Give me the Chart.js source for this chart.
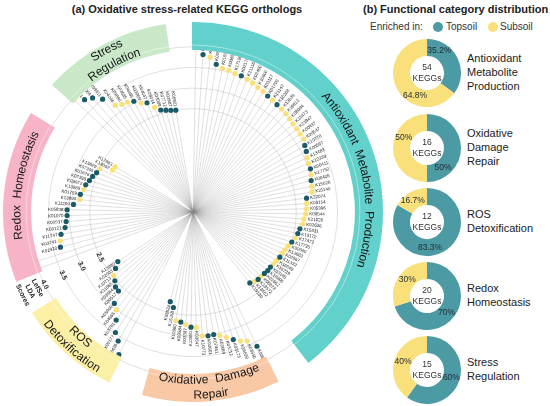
<!DOCTYPE html>
<html><head><meta charset="utf-8">
<script src="https://cdn.jsdelivr.net/npm/chart.js@4"></script>
<style>
html,body{margin:0;padding:0;background:#fff;}
#wrap{position:relative;width:550px;height:406px;overflow:hidden;font-family:"Liberation Sans",Arial,sans-serif;color:#222;}
.abs{position:absolute;white-space:nowrap;}
.title{font-weight:bold;font-size:11px;}
.lg{font-size:10px;color:#333;}
.dot{position:absolute;width:10px;height:10px;border-radius:50%;}
.cat{font-size:11px;line-height:14px;color:#222;}
</style></head>
<body><div id="wrap">
<div class="abs title" style="left:0;width:374px;text-align:center;top:3px;">(a) Oxidative stress-related KEGG orthologs</div>
<div class="abs title" style="left:363px;top:3px;">(b) Functional category distribution</div>
<div class="abs lg" style="left:370px;top:21px;">Enriched in:</div>
<div class="dot" id="lgT" style="left:433px;top:22px;"></div>
<div class="abs lg" style="left:446px;top:21px;">Topsoil</div>
<div class="dot" id="lgS" style="left:488px;top:22px;"></div>
<div class="abs lg" style="left:500px;top:21px;">Subsoil</div>
<canvas id="radar" width="380" height="380" style="position:absolute;left:3px;top:22px;"></canvas>
</div>
<script>
// ---------------- DATA ----------------
const categories = ["Antioxidant Metabolite Production","Oxidative Damage Repair","ROS Detoxification","Redox Homeostasis","Stress Regulation"];
const bandLines = [["Antioxidant  Metabolite  Production"],["Oxidative  Damage","Repair"],["ROS","Detoxification"],["Redox  Homeostasis"],["Stress","Regulation"]];
const sideLabels = [["Antioxidant","Metabolite","Production"],["Oxidative","Damage","Repair"],["ROS","Detoxification"],["Redox","Homeostasis"],["Stress","Regulation"]];

const antioxKO = ["K05916","K00394","K11717","K00548","K01911","K00652","K17180","K02174","K21116","K02400","K10800","K03117","K01700","K21147","K10208","K13039","K19812","K08094","K11473","K21947","K00437","K00547","K10778","K00567","K13483","K12339","K00411","K17752","K00426","K15026","K21140","K22074","K03154","K05396","K00544","K21026","K02636","K15631","K19172","K17472","K17725","K00660","K13663","K02567","K11333","K16049","K16239","K03185","K18800","K01662","K00872","K13572","K14652","K19180"];
const antioxLDA = [4.06,3.82,3.77,3.62,3.55,3.54,3.50,3.50,3.47,3.44,3.40,3.38,3.34,3.32,3.30,3.29,3.27,3.25,3.23,3.22,3.21,3.21,3.15,3.11,3.06,3.03,3.03,3.00,2.96,2.94,2.92,2.77,2.76,2.75,2.73,2.69,2.67,2.62,2.59,2.56,2.50,2.45,2.41,2.38,2.37,2.34,2.32,2.30,2.30,2.28,2.27,2.27,2.25,2.20];
const antioxEnr = ["S","T","S","T","S","S","S","T","S","S","S","S","T","S","T","S","S","S","S","S","S","S","T","T","S","S","T","S","T","S","S","T","S","S","S","S","S","T","T","S","T","S","S","S","T","S","S","T","T","T","S","T","S","T"];

const repairKO = ["K03655","K03550","K16899","K03173","K03712","K03684","K07461","K03601","K10773","K03647","K13581","K03387","K03584","K10980","K15158","K03524"];
const repairLDA = [3.60,3.39,3.33,3.24,3.14,3.06,3.01,3.02,3.01,2.80,2.79,2.73,2.68,2.66,2.36,2.24];
const repairEnr = ["T","S","S","T","S","S","T","T","S","S","T","S","T","S","T","T"];

const rosKO = ["K03386","K06428","K00177","K03781","K04565","K05800","K00517","K03564","K11065","K10713","K02003","K13990"];
const rosLDA = [3.89,3.61,3.47,3.21,3.01,2.92,2.63,2.61,2.52,2.46,2.32,2.18];
const rosEnr = ["T","T","T","T","S","T","T","T","T","S","T","T"];

const redoxKO = ["K00799","K00384","K01920","K03741","K11747","K00121","K00537","K01070","K05838","K11209","K13890","K01759","K13889","K03672","K07390","K03676","K07305","K13829","K18092","K17893"];
const redoxLDA = [4.04,4.00,3.32,3.29,3.24,3.12,3.08,3.05,3.05,2.90,2.76,2.76,2.70,2.68,2.62,2.58,2.52,2.49,2.20,2.18];
const redoxEnr = ["T","T","T","S","T","T","T","T","T","T","S","T","S","T","T","T","T","S","S","S"];

const stressKO = ["K06006","K03701","K09004","K03611","K04046","K03086","K03685","K04485","K03969","K04047","K09014","K03088","K07712","K03687","K06901"];
const stressLDA = [3.96,3.78,3.68,3.50,3.20,3.12,3.10,3.04,2.92,2.87,2.70,2.59,2.55,2.52,2.50];
const stressEnr = ["S","T","T","T","S","S","S","T","S","T","S","T","T","T","T"];

const ldaTicks = [2.5, 3.0, 3.5, 4.0];
const ldaTickLabels = ["2.5","3.0","3.5","4.0"];
const axisTitle = ["LefSe","LDA","Scores"];

const totalKEGGs = [54,16,12,20,15];
const topsoilPct = [35.2,50,83.3,70,60];
const subsoilPct = [64.8,50,16.7,30,40];

// ---------------- STYLE / LAYOUT ----------------
const TOP_DOT = '#1b5a67', SUB_DOT = '#f9e07a';
const TOP_PIE = '#4b9aa4', SUB_PIE = '#fae07b';
const bandColors = ['#62d0cb','#f9c8a5','#fbf0a6','#f7b4c6','#c8e8c8'];
const bandTextShiftDeg = [7,0,0,4,0];
const gapAfter = [4,4,4,4,3];
const startAngleDeg = 1;
const bandInner = 3.92, bandOuter = 4.6;
const axisAngleDeg = 244;
const pieCY = [73,147.5,221.7,295.8,369.5];
const pieCX = 426.7, pieR = 34;
const pctAngles = [[29,208],[141,294],[173,326],[130,309],[107,290]];

const groups = [
  {ko:antioxKO, v:antioxLDA, e:antioxEnr},
  {ko:repairKO, v:repairLDA, e:repairEnr},
  {ko:rosKO, v:rosLDA, e:rosEnr},
  {ko:redoxKO, v:redoxLDA, e:redoxEnr},
  {ko:stressKO, v:stressLDA, e:stressEnr}
];

// build slot table for the radial scale
const slotLabels = [], topData = [], subData = [], slotVal = [], ranges = [];
groups.forEach((g, gi) => {
  const a = slotLabels.length;
  g.ko.forEach((k, j) => {
    slotLabels.push(k); slotVal.push(g.v[j]);
    topData.push(g.e[j] === 'T' ? g.v[j] : null);
    subData.push(g.e[j] === 'S' ? g.v[j] : null);
  });
  ranges.push([a, slotLabels.length - 1]);
  for (let k = 0; k < gapAfter[gi]; k++) { slotLabels.push(''); slotVal.push(null); topData.push(null); subData.push(null); }
});

const FONT = '"Liberation Sans", Arial, sans-serif';

function arcText(ctx, text, cx, cy, r, centerTh, outward) {
  const total = ctx.measureText(text).width; const span = total / r;
  let th = outward ? centerTh - span / 2 : centerTh + span / 2;
  for (const ch of text) {
    const d = ctx.measureText(ch).width / r;
    const mid = outward ? th + d / 2 : th - d / 2;
    ctx.save();
    ctx.translate(cx + Math.sin(mid) * r, cy - Math.cos(mid) * r);
    ctx.rotate(outward ? mid : mid - Math.PI);
    ctx.textAlign = 'center'; ctx.textBaseline = 'middle';
    ctx.fillText(ch, 0, 0);
    ctx.restore();
    th = outward ? th + d : th - d;
  }
}

const radialDecor = {
  id: 'radialDecor',
  beforeDatasetsDraw(chart) {
    const s = chart.scales.r, ctx = chart.ctx;
    ctx.save(); ctx.strokeStyle = 'rgba(130,130,130,0.5)'; ctx.lineWidth = 0.5;
    slotVal.forEach((v, i) => {
      if (v == null) return;
      const p = s.getPointPositionForValue(i, v);
      ctx.beginPath(); ctx.moveTo(s.xCenter, s.yCenter); ctx.lineTo(p.x, p.y); ctx.stroke();
    });
    ctx.restore();
  },
  afterDatasetsDraw(chart) {
    const s = chart.scales.r, ctx = chart.ctx, cx = s.xCenter, cy = s.yCenter;
    const half = Math.PI / slotLabels.length;
    // KO labels
    ctx.save(); ctx.fillStyle = '#262626'; ctx.font = '4.5px ' + FONT; ctx.textBaseline = 'middle';
    slotVal.forEach((v, i) => {
      if (v == null) return;
      const th = s.getIndexAngle(i), rr = s.getDistanceFromCenterForValue(v) + 3.6;
      ctx.save(); ctx.translate(cx + Math.sin(th) * rr, cy - Math.cos(th) * rr);
      if (th < Math.PI) { ctx.rotate(th - Math.PI / 2); ctx.textAlign = 'left'; }
      else { ctx.rotate(th - 1.5 * Math.PI); ctx.textAlign = 'right'; }
      ctx.fillText(slotLabels[i], 0, 0); ctx.restore();
    });
    ctx.restore();
    // category bands
    const rIn = s.getDistanceFromCenterForValue(bandInner), rOut = s.getDistanceFromCenterForValue(bandOuter);
    ranges.forEach(([a, b], gi) => {
      const t0 = s.getIndexAngle(a) - half, t1 = s.getIndexAngle(b) + half;
      ctx.save(); ctx.fillStyle = bandColors[gi];
      ctx.beginPath(); ctx.arc(cx, cy, rOut, t0 - Math.PI / 2, t1 - Math.PI / 2);
      ctx.arc(cx, cy, rIn, t1 - Math.PI / 2, t0 - Math.PI / 2, true); ctx.closePath(); ctx.fill();
      ctx.strokeStyle = 'rgba(255,255,255,0.55)'; ctx.lineWidth = 0.8;
      ctx.beginPath(); ctx.arc(cx, cy, rIn + 5, t0 - Math.PI / 2, t1 - Math.PI / 2); ctx.stroke();
      // texts
      const mid = (t0 + t1) / 2 + bandTextShiftDeg[gi] * Math.PI / 180;
      const outward = !(mid > Math.PI / 2 && mid < 1.35 * Math.PI);
      ctx.fillStyle = '#161616'; ctx.font = '12px ' + FONT;
      const lines = bandLines[gi];
      const rc = (rIn + rOut) / 2;
      if (lines.length === 1) arcText(ctx, lines[0], cx, cy, rc, mid, outward);
      else {
        const rA = outward ? rc + 7.5 : rc - 7.5, rB = outward ? rc - 7.5 : rc + 7.5;
        arcText(ctx, lines[0], cx, cy, rA, mid, outward);
        arcText(ctx, lines[1], cx, cy, rB, mid, outward);
      }
      ctx.restore();
    });
    // axis tick labels
    const ta = axisAngleDeg * Math.PI / 180;
    ctx.save(); ctx.fillStyle = '#222'; ctx.font = 'bold 7px ' + FONT; ctx.textAlign = 'center'; ctx.textBaseline = 'middle';
    ldaTicks.forEach((v, k) => {
      const r = s.getDistanceFromCenterForValue(v);
      ctx.save(); ctx.translate(cx + Math.sin(ta) * r, cy - Math.cos(ta) * r); ctx.rotate(ta - Math.PI);
      ctx.fillText(ldaTickLabels[k], 0, 0); ctx.restore();
    });
    axisTitle.forEach((t, k) => {
      const r = s.getDistanceFromCenterForValue(4.19 + k * 0.2);
      ctx.save(); ctx.translate(cx + Math.sin(ta) * r, cy - Math.cos(ta) * r); ctx.rotate(ta - Math.PI);
      ctx.fillText(t, 0, 0); ctx.restore();
    });
    ctx.restore();
  }
};

new Chart(document.getElementById('radar'), {
  type: 'radar',
  data: { labels: slotLabels, datasets: [
    { label: 'Topsoil', data: topData, showLine: false, fill: false, borderColor: 'transparent', backgroundColor: 'transparent', pointBackgroundColor: TOP_DOT, pointBorderWidth: 0, pointRadius: 2.6 },
    { label: 'Subsoil', data: subData, showLine: false, fill: false, borderColor: 'transparent', backgroundColor: 'transparent', pointBackgroundColor: SUB_DOT, pointBorderWidth: 0, pointRadius: 2.6 }
  ]},
  options: {
    responsive: false, animation: false, events: [], layout: { padding: 0 },
    plugins: { legend: { display: false }, tooltip: { enabled: false } },
    scales: { r: {
      min: 0, max: 4.6, startAngle: startAngleDeg,
      angleLines: { display: false }, pointLabels: { display: false },
      ticks: { display: false, stepSize: 0.5 },
      grid: { circular: true, lineWidth: 0.8, color: (c) => ldaTicks.some(t => Math.abs(t - c.tick.value) < 1e-6) ? '#d8d8d8' : 'rgba(0,0,0,0)' }
    }}
  },
  plugins: [radialDecor]
});

// ---------------- DOUGHNUTS ----------------
document.getElementById('lgT').style.background = TOP_PIE;
document.getElementById('lgS').style.background = SUB_PIE;
const wrap = document.getElementById('wrap');
const fmt = v => (Math.round(v) === v ? v.toFixed(0) : v.toFixed(1)) + '%';
totalKEGGs.forEach((n, i) => {
  const cv = document.createElement('canvas');
  cv.width = 2 * pieR; cv.height = 2 * pieR;
  cv.style.cssText = `position:absolute;left:${pieCX - pieR}px;top:${pieCY[i] - pieR}px;`;
  wrap.appendChild(cv);
  const lab = document.createElement('div');
  lab.className = 'abs cat';
  lab.innerHTML = sideLabels[i].join('<br>');
  lab.style.left = '467px';
  lab.style.top = (pieCY[i] - sideLabels[i].length * 7 - 1) + 'px';
  wrap.appendChild(lab);
  new Chart(cv, {
    type: 'doughnut',
    data: { labels: ['Topsoil','Subsoil'], datasets: [{ data: [topsoilPct[i], subsoilPct[i]], backgroundColor: [TOP_PIE, SUB_PIE], borderWidth: 0 }] },
    options: { responsive: false, animation: false, events: [], cutout: '50%', layout: { padding: 0 },
      plugins: { legend: { display: false }, tooltip: { enabled: false } } },
    plugins: [{ id: 'pieText', afterDraw(ch) {
      const ctx = ch.ctx, arc = ch.getDatasetMeta(0).data[0];
      const x = arc.x, y = arc.y, rm = (arc.innerRadius + arc.outerRadius) / 2;
      ctx.save(); ctx.textAlign = 'center'; ctx.textBaseline = 'middle';
      ctx.fillStyle = '#333'; ctx.font = '8.5px ' + FONT;
      ctx.fillText(String(n), x, y - 5.5); ctx.fillText('KEGGs', x, y + 5.5);
      ctx.fillStyle = '#1f2a30'; ctx.font = '8.5px ' + FONT;
      [topsoilPct[i], subsoilPct[i]].forEach((p, k) => {
        const a = pctAngles[i][k] * Math.PI / 180;
        ctx.fillText(fmt(p), x + Math.sin(a) * rm, y - Math.cos(a) * rm);
      });
      ctx.restore();
    }}]
  });
});
</script>
</body></html>
